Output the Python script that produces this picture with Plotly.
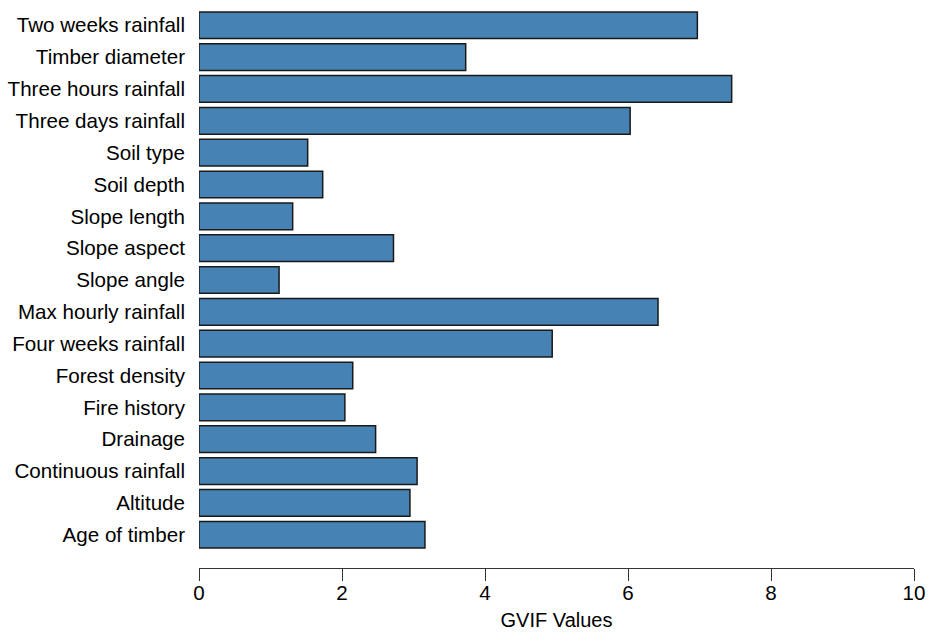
import plotly.graph_objects as go

variables = [
    "Age of timber", "Altitude", "Continuous rainfall", "Drainage",
    "Fire history", "Forest density", "Four weeks rainfall",
    "Max hourly rainfall", "Slope angle", "Slope aspect", "Slope length",
    "Soil depth", "Soil type", "Three days rainfall", "Three hours rainfall",
    "Timber diameter", "Two weeks rainfall",
]
gvif = [
    3.16, 2.95, 3.05, 2.47,
    2.04, 2.15, 4.94,
    6.42, 1.12, 2.72, 1.31,
    1.73, 1.52, 6.03, 7.45,
    3.73, 6.97,
]
x_ticks = [0, 2, 4, 6, 8, 10]

fig = go.Figure(
    go.Bar(
        x=gvif,
        y=variables,
        orientation="h",
        marker=dict(color="#4682B4", line=dict(color="#1a1a1a", width=1.5)),
        cliponaxis=False,
    )
)

fig.update_layout(
    width=929,
    height=633,
    margin=dict(l=199, r=15, t=0, b=65),
    plot_bgcolor="white",
    paper_bgcolor="white",
    bargap=0.162,
    showlegend=False,
    font=dict(family="Liberation Sans, Arial, sans-serif", size=20.6, color="black"),
    xaxis=dict(
        range=[0, 10],
        tickvals=x_ticks,
        ticktext=[str(v) for v in x_ticks],
        showgrid=False,
        zeroline=False,
        showline=True,
        linecolor="#333333",
        linewidth=1.3,
        ticks="outside",
        ticklen=12,
        tickwidth=1.3,
        tickcolor="#333333",
        ticklabelstandoff=-6,
        title=dict(text="GVIF Values", standoff=10, font=dict(size=20)),
        tickfont=dict(size=20.6),
    ),
    yaxis=dict(
        type="category",
        categoryorder="array",
        categoryarray=variables,
        range=[-1.045, 16.794],
        showgrid=False,
        zeroline=False,
        showline=False,
        ticks="",
        ticklabelstandoff=13,
        tickfont=dict(size=20.6),
    ),
)

fig.write_html(
    "out.html",
    config={"displayModeBar": False},
    post_script="document.body.style.margin='0';document.body.style.padding='0';",
)
